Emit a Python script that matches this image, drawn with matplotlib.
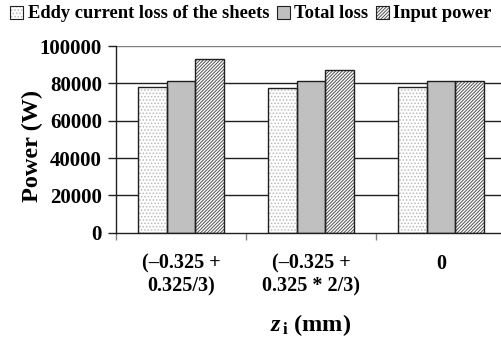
import matplotlib
matplotlib.use("Agg")
import matplotlib.pyplot as plt
import numpy as np
from matplotlib.patches import Patch
from matplotlib.legend_handler import HandlerTuple

plt.rcParams['font.family'] = ['Liberation Serif', 'DejaVu Serif']
plt.rcParams['font.weight'] = 'bold'
plt.rcParams['mathtext.fontset'] = 'custom'
plt.rcParams['mathtext.it'] = 'Liberation Serif:italic:bold'
plt.rcParams['mathtext.bf'] = 'Liberation Serif:bold'
plt.rcParams['mathtext.rm'] = 'Liberation Serif:bold'
plt.rcParams['hatch.linewidth'] = 0.7

categories = ["(\u20130.325 +\n0.325/3)", "(\u20130.325 +\n0.325 * 2/3)", "0"]
series_names = ["Eddy current loss of the sheets", "Total loss", "Input power"]
eddy = [78000, 77300, 78000]
total = [81000, 81000, 81200]
inp = [93000, 87000, 81200]
yticks = [0, 20000, 40000, 60000, 80000, 100000]

W, H = 501, 338
fig = plt.figure(figsize=(W / 100, H / 100), dpi=100)
ax = fig.add_axes([116 / W, (H - 232.7) / H, 390 / W, 186.7 / H])

x = np.arange(len(categories))
bw = 0.223
styles = [
    dict(facecolor='white', hatch='.....', hcolor='#b8b8b8'),
    dict(facecolor='#c0c0c0', hatch=None, hcolor='#c0c0c0'),
    dict(facecolor='white', hatch='//////////', hcolor='#505050'),
]
handles = []
for i, (vals, st) in enumerate(zip([eddy, total, inp], styles)):
    pos = x + (i - 1) * bw
    ax.bar(pos, vals, bw, facecolor=st['facecolor'], edgecolor=st['hcolor'],
           hatch=st['hatch'], linewidth=0, zorder=2)
    ax.bar(pos, vals, bw, facecolor='none', edgecolor='#202020', linewidth=1.0, zorder=3)
    p1 = Patch(facecolor=st['facecolor'], edgecolor=st['hcolor'], hatch=st['hatch'], linewidth=0)
    p2 = Patch(facecolor='none', edgecolor='#202020', linewidth=0.8)
    handles.append((p1, p2))

ax.set_xlim(-0.5, 2.5)
ax.set_ylim(0, 100000)
for v in yticks[1:-1]:
    ax.axhline(v, color='#202020', linewidth=1.0, zorder=1)
ax.axhline(100000, color='#808080', linewidth=1.0, zorder=1)

ax.set_yticks(yticks)
ax.set_yticklabels([str(v) for v in yticks], fontsize=15, fontweight='bold')
ax.tick_params(axis='y', direction='out', length=6, width=1, color='#202020', pad=4)

ax.set_xticks(x)
ax.set_xticklabels(categories, fontsize=14.5, fontweight='bold', linespacing=1.2)
ax.tick_params(axis='x', which='major', length=0, pad=15)
ax.set_xticks([-0.5, 0.5, 1.5], minor=True)
ax.tick_params(axis='x', which='minor', direction='out', length=5, width=1, color='#808080')

for s in ['top', 'right']:
    ax.spines[s].set_visible(False)
ax.spines['left'].set_color('#202020')
ax.spines['bottom'].set_color('#202020')
ax.spines['left'].set_linewidth(1)
ax.spines['bottom'].set_linewidth(1)

fig.text(32 / W, 1 - 146 / H, "Power (W)", fontsize=17.5, fontweight='bold',
         rotation=90, ha='center', va='center')
fig.text(311 / W, 1 - 325 / H, r"$z_{\,\mathbf{i}}$ (mm)", fontsize=17.5,
         fontweight='bold', ha='center', va='center')

fig.legend(handles, series_names, loc='center', bbox_to_anchor=(251 / W, 1 - 14 / H),
           ncol=3, frameon=False, handlelength=0.7, handleheight=0.7,
           handletextpad=0.25, columnspacing=0.4, prop={'weight': 'bold', 'size': 13.3},
           handler_map={tuple: HandlerTuple(ndivide=1, pad=0)}, borderpad=0, borderaxespad=0)

fig.savefig("out.png", dpi=100)
